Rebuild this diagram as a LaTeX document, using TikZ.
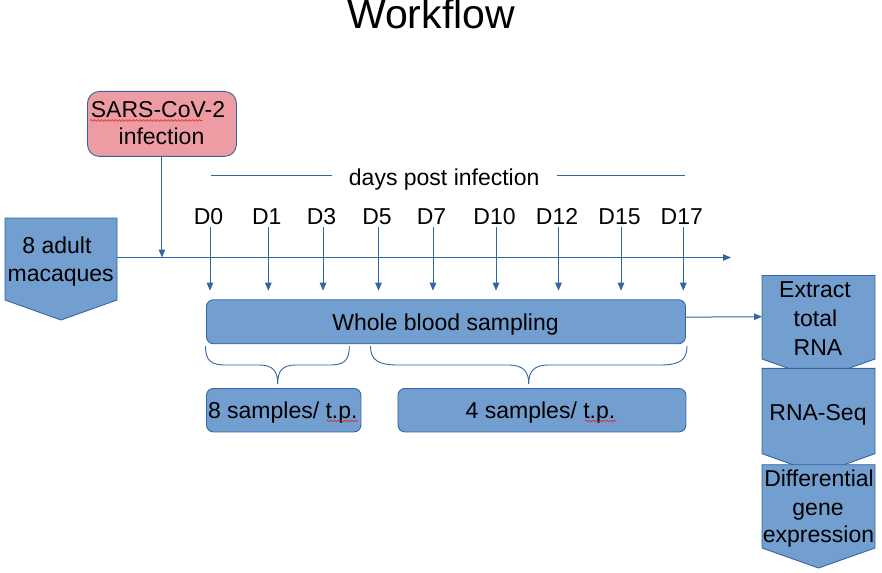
\documentclass[tikz,border=0pt]{standalone}
\usepackage{fontspec}
\setmainfont{Liberation Sans}
\usetikzlibrary{arrows.meta,decorations.pathmorphing}
\definecolor{bfill}{HTML}{729FCF}
\definecolor{bline}{HTML}{3465A4}
\definecolor{pfill}{HTML}{EE9CA4}
\definecolor{squig}{HTML}{E02020}
\begin{document}
\begin{tikzpicture}[x=1pt,y=-1pt,
 txt/.style={inner sep=0pt, anchor=base, font=\fontsize{23}{27}\selectfont},
 rbox/.style={draw=bline, fill=bfill, line width=0.9pt, rounded corners=7pt, inner sep=0pt, anchor=north west},
 chev/.style={draw=bline, fill=bfill, line width=0.9pt},
 conn/.style={draw=bline, line width=1pt, -{Triangle[length=8pt,width=6.5pt]}},
 plainline/.style={draw=bline, line width=1pt},
 squiggle/.style={draw=squig, line width=0.6pt, decorate, decoration={snake, amplitude=0.9pt, segment length=3.5pt}}
]
\useasboundingbox (0,0) rectangle (882,572);

% title
\node[txt, font=\fontsize{41}{48}\selectfont] (title) at (431,29) {Workflow};

% infection box
\node[rbox, fill=pfill, rounded corners=12pt, minimum width=149pt, minimum height=65pt] (inf) at (87,91) {};
\node[txt] (inf1) at (158,117.7) {SARS-CoV-2};
\node[txt] (inf2) at (161.5,145) {infection};
\draw[squiggle] (90,120.5) -- (202,120.5);

% macaques pentagon
\draw[chev] (5,218) -- (117,218) -- (117,300) -- (61,320) -- (5,300) -- cycle;
\node[txt] (mac1) at (57,253.3) {8 adult};
\node[txt] (mac2) at (60.7,281.7) {macaques};
\coordinate (macR) at (117,257.5);
\coordinate (tlEnd) at (731,257.5);

% timeline
\draw[conn] (macR) -- (tlEnd);
\draw[conn] (inf.south) -- (inf.south |- macR);

% days post infection
\node[txt, inner xsep=17pt] (dpi) at (444.2,185) {days post infection};
\coordinate (dl1) at (211,175.7);
\coordinate (dl2) at (685,175.7);
\draw[plainline] (dl1) -- (dl1 -| dpi.west);
\draw[plainline] (dl2) -- (dl2 -| dpi.east);

% whole blood sampling
\node[rbox, minimum width=479pt, minimum height=44pt] (wbs) at (206,299.3) {};
\node[txt] (wbst) at (445.5,330) {Whole blood sampling};

% day labels and arrows
\foreach \lab/\x in {D0/210, D1/268.3, D3/323, D5/378.5, D7/433, D10/496, D12/558.5, D15/621, D17/683.3}{
  \node[txt] (\lab) at (\x-1.5,224) {\lab};
  \coordinate (\lab a) at (\x,227.3);
  \draw[conn, shorten >=8.6pt] (\lab a) -- (\lab a |- wbs.north);
}

% braces
\draw[plainline, line width=0.9pt] (205.5,346) .. controls (205.5,361) and (211,365) .. (226,365)
  -- (259,365) .. controls (273,365) and (277.7,371) .. (277.7,384)
  .. controls (277.7,371) and (282,365) .. (296,365)
  -- (329,365) .. controls (344,365) and (349.3,361) .. (349.3,346);
\draw[plainline, line width=0.9pt] (370.5,346) .. controls (370.5,360) and (378,365) .. (398,365)
  -- (508,365) .. controls (523,365) and (528.7,371) .. (528.7,384)
  .. controls (528.7,371) and (534,365) .. (549,365)
  -- (660,365) .. controls (680,365) and (687,360) .. (687,346);

% sample boxes
\node[rbox, minimum width=154.5pt, minimum height=43.5pt] (s8) at (206,388) {};
\node[txt] (s8t) at (282.8,418.3) {8 samples/ t.p.};
\draw[squiggle] (326.5,421) -- (358,421);
\node[rbox, minimum width=288pt, minimum height=43.5pt] (s4) at (397.5,388) {};
\node[txt] (s4t) at (540.5,418.3) {4 samples/ t.p.};
\draw[squiggle] (585,421) -- (616,421);

% right chevrons
\draw[chev] (762,275.5) -- (875,275.5) -- (875,359) -- (818.5,379) -- (762,359) -- cycle;
\draw[chev] (762,368.4) -- (875,368.4) -- (875,453.6) -- (818.5,474) -- (762,453.6) -- cycle;
\draw[chev] (762,464.7) -- (875,464.7) -- (875,548) -- (818.5,568) -- (762,548) -- cycle;
\coordinate (extL) at (762,316.7);
\node[txt] (ex1) at (815,297.7) {Extract};
\node[txt] (ex2) at (815.4,326.7) {total};
\node[txt] (ex3) at (818,355.3) {RNA};
\node[txt] (seq) at (818,420) {RNA-Seq};
\node[txt] (dg1) at (819,486.3) {Differential};
\node[txt] (dg2) at (818,515) {gene};
\node[txt] (dg3) at (818.5,542.8) {expression};

% arrow to extraction
\draw[conn] ([yshift=4.6pt]wbs.east) -- (extL);
\end{tikzpicture}
\end{document}
